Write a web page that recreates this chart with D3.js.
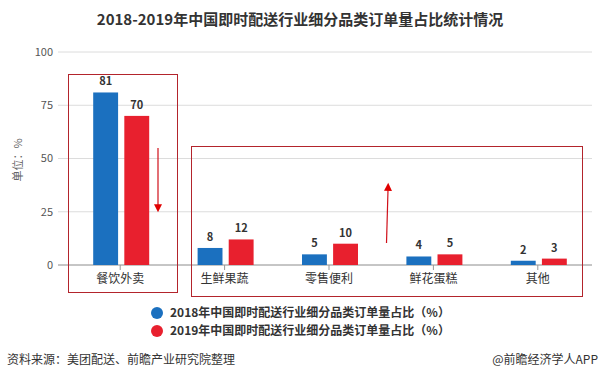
<!DOCTYPE html>
<html lang="zh">
<head>
<meta charset="UTF-8">
<title>2018-2019年中国即时配送行业细分品类订单量占比统计情况</title>
<script src="https://d3js.org/d3.v7.min.js"></script>
<style>
  body { margin: 0; background: #fff; }
  text { font-family: "Noto Sans CJK SC", "Noto Sans", sans-serif; }
</style>
</head>
<body>
<div id="chart"></div>
<script>
  // data
  var categories = ["餐饮外卖", "生鲜果蔬", "零售便利", "鲜花蛋糕", "其他"];
  var values2018 = [81, 8, 5, 4, 2];
  var values2019 = [70, 12, 10, 5, 3];
  var seriesNames = ["2018年中国即时配送行业细分品类订单量占比（%）", "2019年中国即时配送行业细分品类订单量占比（%）"];
  var yTicks = [0, 25, 50, 75, 100];

  var width = 602, height = 381;
  var colors = ["#1b70bf", "#e8202e"];

  var svg = d3.select("#chart").append("svg")
    .attr("width", width)
    .attr("height", height);

  var x = d3.scaleBand().domain(categories).range([68, 590]);
  var xs = d3.scaleBand().domain([0, 1]).range([0, 56]).paddingInner(0.2);
  var y = d3.scaleLinear().domain([0, 100]).range([265, 52]);

  // title
  svg.append("text")
    .attr("x", 300).attr("y", 25)
    .attr("text-anchor", "middle")
    .style("font-size", "15px").style("font-weight", "bold")
    .attr("fill", "#333")
    .text("2018-2019年中国即时配送行业细分品类订单量占比统计情况");

  // gridlines + y labels
  var grid = svg.append("g");
  yTicks.forEach(function (t) {
    grid.append("line")
      .attr("x1", 58).attr("x2", 592)
      .attr("y1", y(t)).attr("y2", y(t))
      .attr("stroke", t === 0 ? "#8c8c8c" : "#dcdcdc")
      .attr("stroke-width", 1);
    grid.append("text")
      .attr("x", 53).attr("y", y(t))
      .attr("dy", "0.35em")
      .attr("text-anchor", "end")
      .style("font-size", "11px")
      .attr("fill", "#555")
      .text(t);
  });

  svg.append("text")
    .attr("transform", "translate(22," + 160 + ") rotate(-90)")
    .attr("text-anchor", "middle")
    .style("font-size", "11px")
    .attr("fill", "#666")
    .text("单位：%");

  // x ticks and labels
  categories.forEach(function (c) {
    var cx = x(c) + x.bandwidth() / 2;
    svg.append("line")
      .attr("x1", cx).attr("x2", cx)
      .attr("y1", y(0)).attr("y2", y(0) + 5)
      .attr("stroke", "#999");
    svg.append("text")
      .attr("x", cx).attr("y", 283)
      .attr("text-anchor", "middle")
      .style("font-size", "12px")
      .attr("fill", "#333")
      .text(c);
  });

  // bars
  var series = [values2018, values2019];
  series.forEach(function (vals, si) {
    var g = svg.append("g");
    g.selectAll("rect")
      .data(vals)
      .join("rect")
      .attr("x", function (d, i) { return x(categories[i]) + x.bandwidth() / 2 - 27 + xs(si); })
      .attr("y", function (d) { return y(d); })
      .attr("width", xs.bandwidth())
      .attr("height", function (d) { return y(0) - y(d); })
      .attr("fill", colors[si]);
    g.selectAll("text")
      .data(vals)
      .join("text")
      .attr("x", function (d, i) { return x(categories[i]) + x.bandwidth() / 2 - 27 + xs(si) + xs.bandwidth() / 2; })
      .attr("y", function (d) { return y(d) - 7; })
      .attr("text-anchor", "middle")
      .style("font-size", "11px").style("font-weight", "bold")
      .attr("fill", "#333")
      .text(function (d) { return d; });
  });

  // highlight boxes
  svg.append("rect")
    .attr("x", 68.5).attr("y", 74.5).attr("width", 109).attr("height", 218)
    .attr("fill", "none").attr("stroke", "#b3242c").attr("stroke-width", 1);
  svg.append("rect")
    .attr("x", 191.5).attr("y", 146.5).attr("width", 391).attr("height", 150)
    .attr("fill", "none").attr("stroke", "#b3242c").attr("stroke-width", 1);

  // arrows
  svg.append("defs").append("marker")
    .attr("id", "head")
    .attr("viewBox", "0 0 10 10")
    .attr("refX", 1).attr("refY", 5)
    .attr("markerWidth", 12).attr("markerHeight", 8)
    .attr("markerUnits", "userSpaceOnUse")
    .attr("orient", "auto")
    .append("path")
    .attr("d", "M0,0 L10,5 L0,10 Z")
    .attr("fill", "#e00000");
  svg.append("line")
    .attr("x1", 158).attr("y1", 148).attr("x2", 158).attr("y2", 205)
    .attr("stroke", "#d0101a").attr("stroke-width", 1.2)
    .attr("marker-end", "url(#head)");
  svg.append("line")
    .attr("x1", 386.5).attr("y1", 243).attr("x2", 388).attr("y2", 190)
    .attr("stroke", "#d0101a").attr("stroke-width", 1.2)
    .attr("marker-end", "url(#head)");

  // legend
  seriesNames.forEach(function (n, i) {
    var ly = 313 + i * 18;
    svg.append("circle")
      .attr("cx", 157).attr("cy", ly).attr("r", 6)
      .attr("fill", colors[i]);
    svg.append("text")
      .attr("x", 170).attr("y", ly)
      .attr("dy", "0.35em")
      .style("font-size", "12px").style("font-weight", "bold")
      .attr("fill", "#333")
      .text(n);
  });

  // footer
  svg.append("text")
    .attr("x", 7).attr("y", 364)
    .style("font-size", "12px")
    .attr("fill", "#333")
    .text("资料来源：美团配送、前瞻产业研究院整理");
  svg.append("text")
    .attr("x", 598).attr("y", 364)
    .attr("text-anchor", "end")
    .style("font-size", "12px")
    .attr("fill", "#333")
    .text("@前瞻经济学人APP");
</script>
</body>
</html>
